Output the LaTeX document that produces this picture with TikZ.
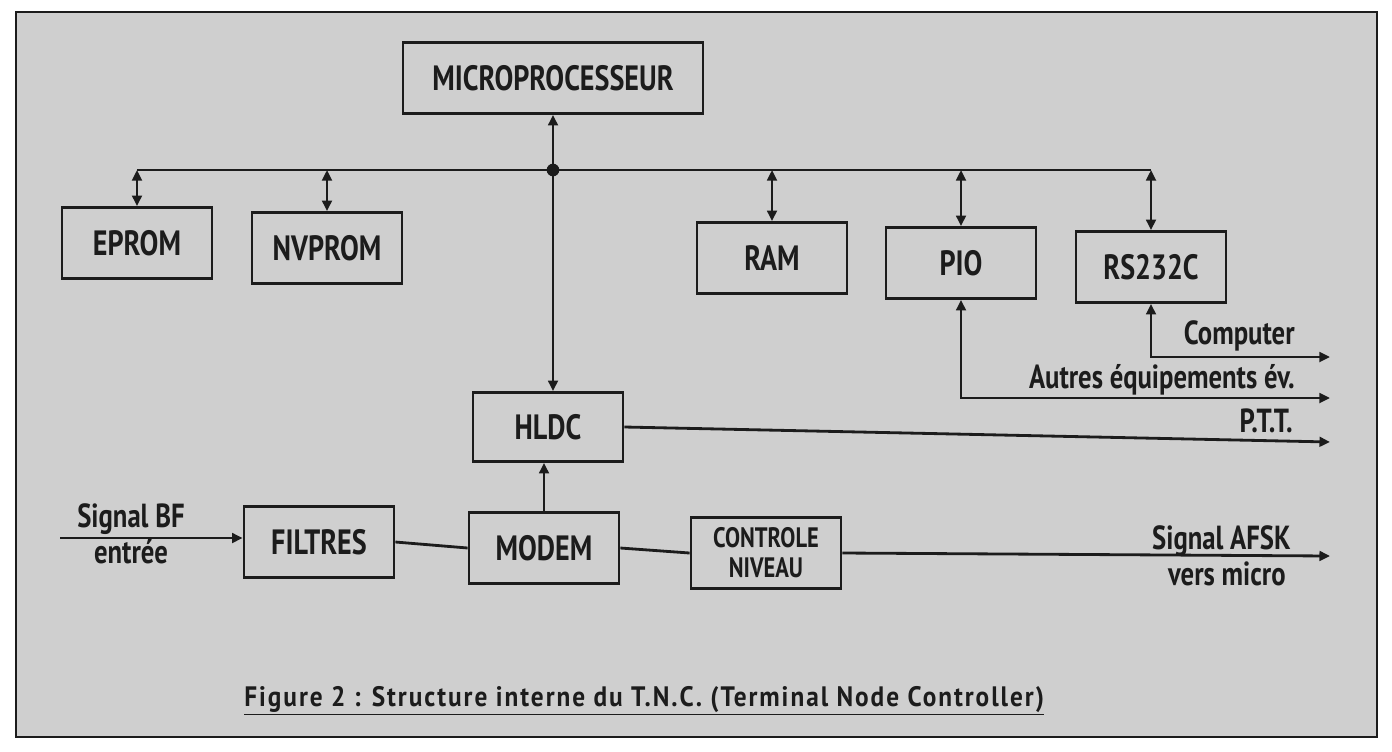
\documentclass[tikz,border=0pt]{standalone}
\usepackage{fontspec}
\setmainfont{PT Sans}[FakeStretch=0.8]
\newfontfamily\capfont{PT Sans}[FakeStretch=0.9,LetterSpace=7]
\usetikzlibrary{arrows.meta,positioning,calc}
\definecolor{ink}{HTML}{1C1C1C}
\definecolor{paper}{HTML}{CFCFCF}

\begin{document}
\begin{tikzpicture}[x=0.02cm,y=-0.02cm,>={Triangle[length=6pt,width=5.5pt]},
  blk/.style={draw=ink,line width=1.6pt,minimum width=3cm,minimum height=1.42cm,inner sep=0pt,align=center,text=ink,font=\bfseries\fontsize{20}{20}\selectfont},
  lbl/.style={font=\bfseries\fontsize{19}{20}\selectfont,inner sep=0pt,text=ink},
  wire/.style={ink,line width=1.6pt}]
\useasboundingbox (0,0) rectangle (1392,751);
\fill[white] (0,0) rectangle (1392,751);
\filldraw[fill=paper,draw=ink,line width=1pt] (16,12) rectangle (1377,737);
% blocks
\node[blk,minimum width=6cm,minimum height=1.42cm] (micro) at (553,78) {MICROPROCESSEUR};
\node[blk] (eprom) at (137,243) {EPROM};
\node[blk] (nvprom) at (327,248) {NVPROM};
\node[blk] (ram) at (772,258) {RAM};
\node[blk] (pio) at (961,263) {PIO};
\node[blk] (rs) at (1151,267) {RS232C};
\node[blk,minimum height=1.38cm] (hldc) at (548,427) {HLDC};
\node[blk] (filtres) at (319,542) {FILTRES};
\node[blk] (modem) at (544,548) {MODEM};
\node[blk,font=\bfseries\fontsize{16}{17}\selectfont] (ctrl) at (766,553) {CONTROLE\\NIVEAU};
% free ends
\coordinate (bus) at (0,170);
\coordinate (jn) at (micro.south |- bus);
\coordinate (comp) at (1330,357);
\coordinate (autres) at (1330,398);
\coordinate (ptt) at (1330,442);
\coordinate (bf) at (60,538);
\coordinate (afsk) at (1330,556);
% bus
\draw[wire] (eprom.north |- jn) -- (rs.north |- jn);
\draw[wire,<->] (micro.south) -- (micro.south |- hldc.north);
\fill[ink] (jn) circle (3.6pt);
\foreach \b in {eprom,nvprom,ram,pio,rs}
  \draw[wire,<->] (\b.north |- jn) -- (\b.north);
% outputs
\draw[wire,<->] (rs.south) |- (comp);
\draw[wire,<->] (pio.south) |- (autres);
\draw[wire,->] (hldc.east) -- (ptt);
\draw[wire,->] (bf) -- (bf -| filtres.west);
\draw[wire] (filtres.east) -- (modem.west);
\draw[wire,->] (modem.north) -- (modem.north |- hldc.south);
\draw[wire] (modem.east) -- (ctrl.west);
\draw[wire,->] (ctrl.east) -- (afsk);
% labels
\node[lbl,anchor=base east] (lcomp) at (1295,344) {Computer};
\node[lbl,anchor=base east] (lautres) at (1295,388) {Autres équipements év.};
\node[lbl,anchor=base east] (lptt) at (1293,432) {P.T.T.};
\node[lbl,anchor=base] (lbf) at (131,527) {Signal BF};
\node[lbl,anchor=base] (lentree) at (131,563) {entrée};
\node[lbl,anchor=base east] (lafsk) at (1291,549) {Signal AFSK};
\node[lbl,anchor=base east] (lmicro) at (1286,585) {vers micro};
\node[lbl,anchor=base west,font=\capfont\bfseries\fontsize{16}{20}\selectfont] (cap) at (244,706) {\underline{Figure 2 : Structure interne du T.N.C. (Terminal Node Controller)}};
\end{tikzpicture}
\end{document}
